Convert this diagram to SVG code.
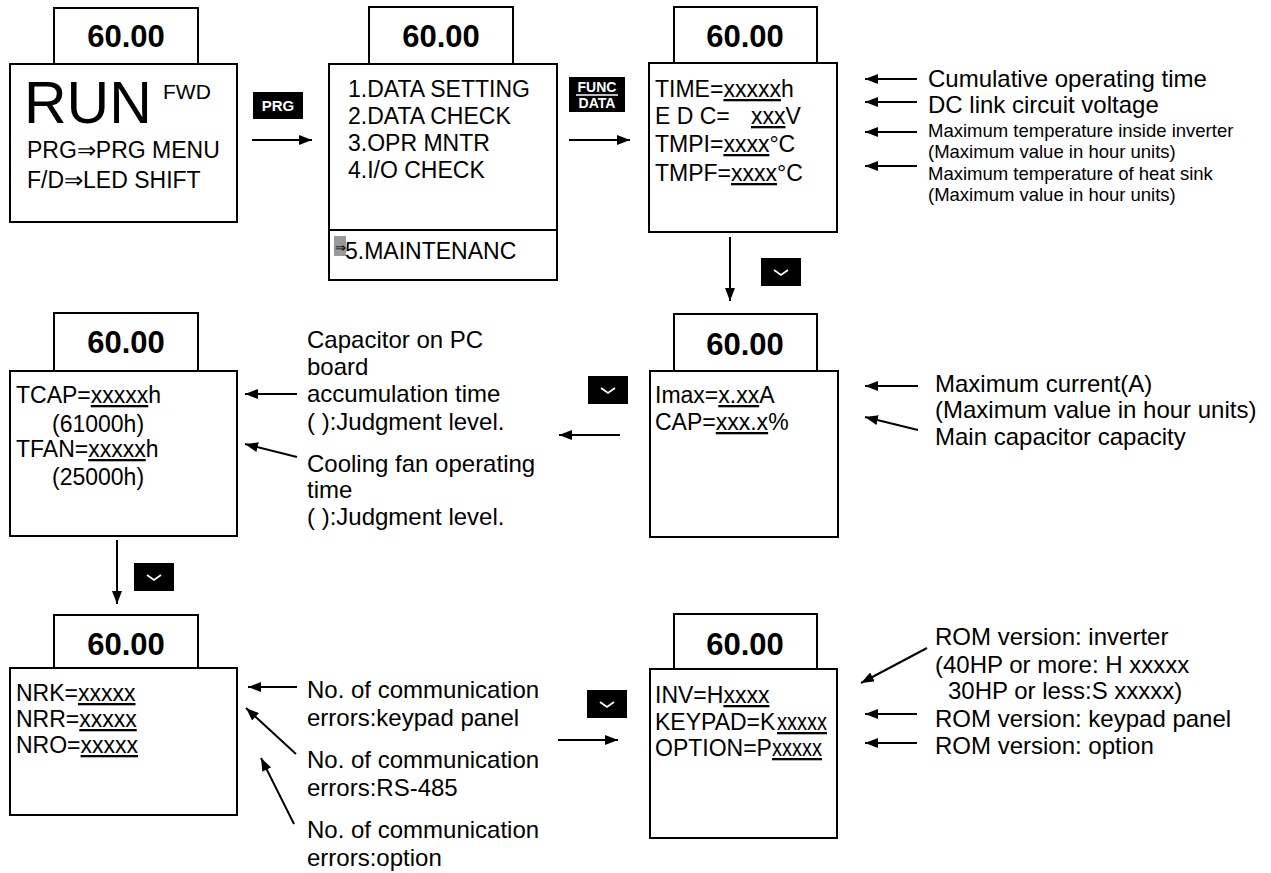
<svg xmlns="http://www.w3.org/2000/svg" width="1271" height="873" viewBox="0 0 1271 873">
<style>
.box{fill:#fff;stroke:#000;stroke-width:2}
.t{font-family:"Liberation Sans",Arial,sans-serif;fill:#000}
.p{font-size:23px}
.hd{font-size:31px;font-weight:bold;text-anchor:middle}
.an{font-size:24px}
.sm{font-size:18.5px}
.u{text-decoration:underline}
.badge{fill:#000}
.bt{font-family:"Liberation Sans",Arial,sans-serif;font-weight:bold;fill:#fff;text-anchor:middle}
.chev{fill:none;stroke:#fff;stroke-width:1.8}
.ar{stroke:#000;stroke-width:2;fill:none;marker-end:url(#ah)}
</style>
<defs>
<marker id="ah" markerUnits="userSpaceOnUse" markerWidth="13" markerHeight="10" refX="13" refY="5" orient="auto">
<path d="M0,0 L13,5 L0,10 z" fill="#000"/>
</marker>
<g id="chevron">
<rect class="badge" x="0" y="0" width="40" height="28"/>
<polyline class="chev" points="13,12 20,17 27,12"/>
</g>
</defs>
<rect width="1271" height="873" fill="#fff"/>

<g id="panel-run">
<rect class="box" x="54" y="8" width="144" height="56"/>
<text class="t hd" x="126" y="47">60.00</text>
<rect class="box" x="10" y="64" width="227" height="158"/>
<text class="t" x="24" y="123" font-size="59">RUN</text>
<text class="t" x="163" y="99" font-size="21">FWD</text>
<text class="t p" x="27" y="158">PRG⇒PRG MENU</text>
<text class="t p" x="27" y="188">F/D⇒LED SHIFT</text>
</g>

<g id="key-prg">
<rect class="badge" x="253" y="92" width="50" height="27"/>
<text class="bt" x="278" y="111" font-size="15">PRG</text>
</g>

<g id="panel-menu">
<rect class="box" x="369" y="7" width="144" height="57"/>
<text class="t hd" x="441" y="47">60.00</text>
<rect class="box" x="329" y="64" width="228" height="216"/>
<line x1="329" y1="230" x2="557" y2="230" stroke="#000" stroke-width="2"/>
<text class="t p" x="348" y="97">1.DATA SETTING</text>
<text class="t p" x="348" y="124">2.DATA CHECK</text>
<text class="t p" x="348" y="151">3.OPR MNTR</text>
<text class="t p" x="348" y="178">4.I/O CHECK</text>
<rect x="334" y="236" width="12" height="20" fill="#999"/>
<text class="t" x="340" y="252" font-size="13" text-anchor="middle" fill="#333">⇒</text>
<text class="t p" x="345" y="259">5.MAINTENANC</text>
</g>

<g id="key-funcdata">
<rect class="badge" x="569" y="77" width="56" height="35"/>
<text class="bt" x="597" y="92" font-size="14">FUNC</text>
<line x1="576" y1="95" x2="618" y2="95" stroke="#fff" stroke-width="1.5"/>
<text class="bt" x="597" y="108" font-size="14">DATA</text>
</g>

<g id="panel-time">
<rect class="box" x="674" y="7" width="143" height="56"/>
<text class="t hd" x="745" y="47">60.00</text>
<rect class="box" x="649" y="63" width="188" height="169"/>
<text class="t p" x="655" y="97">TIME=<tspan class="u">xxxxx</tspan>h</text>
<text class="t p" x="655" y="124">E D C=<tspan x="751" class="u">xxx</tspan>V</text>
<text class="t p" x="655" y="152">TMPI=<tspan class="u">xxxx</tspan>°C</text>
<text class="t p" x="655" y="181">TMPF=<tspan class="u">xxxx</tspan>°C</text>
</g>

<g id="notes-time">
<text class="t an" x="928" y="87">Cumulative operating time</text>
<text class="t an" x="928" y="113">DC link circuit voltage</text>
<text class="t sm" x="928" y="137">Maximum temperature inside inverter</text>
<text class="t sm" x="928" y="158">(Maximum value in hour units)</text>
<text class="t sm" x="928" y="180">Maximum temperature of heat sink</text>
<text class="t sm" x="928" y="201">(Maximum value in hour units)</text>
</g>

<g id="key-down-1"><use href="#chevron" x="761" y="258"/></g>

<g id="panel-imax">
<rect class="box" x="674" y="314" width="143" height="57"/>
<text class="t hd" x="745" y="355">60.00</text>
<rect class="box" x="650" y="371" width="188" height="166"/>
<text class="t p" x="655" y="403">Imax=<tspan class="u">x.xx</tspan>A</text>
<text class="t p" x="655" y="430">CAP=<tspan class="u">xxx.x</tspan>%</text>
</g>

<g id="notes-imax">
<text class="t an" x="935" y="392">Maximum current(A)</text>
<text class="t an" x="935" y="418">(Maximum value in hour units)</text>
<text class="t an" x="935" y="445">Main capacitor capacity</text>
</g>

<g id="key-down-2"><use href="#chevron" x="588" y="376"/></g>

<g id="panel-tcap">
<rect class="box" x="54" y="313" width="144" height="58"/>
<text class="t hd" x="126" y="353">60.00</text>
<rect class="box" x="10" y="371" width="227" height="165"/>
<text class="t p" x="16" y="403">TCAP=<tspan class="u">xxxxx</tspan>h</text>
<text class="t p" x="52" y="432">(61000h)</text>
<text class="t p" x="16" y="457">TFAN=<tspan class="u">xxxxx</tspan>h</text>
<text class="t p" x="52" y="485">(25000h)</text>
</g>

<g id="notes-tcap">
<text class="t an" x="307" y="348">Capacitor on PC</text>
<text class="t an" x="307" y="375">board</text>
<text class="t an" x="307" y="402">accumulation time</text>
<text class="t an" x="307" y="430">( ):Judgment level.</text>
<text class="t an" x="307" y="472">Cooling fan operating</text>
<text class="t an" x="307" y="498">time</text>
<text class="t an" x="307" y="525">( ):Judgment level.</text>
</g>

<g id="key-down-3"><use href="#chevron" x="134" y="563"/></g>

<g id="panel-nrk">
<rect class="box" x="54" y="615" width="144" height="53"/>
<text class="t hd" x="126" y="655">60.00</text>
<rect class="box" x="10" y="668" width="227" height="147"/>
<text class="t p" x="16" y="701">NRK=<tspan class="u">xxxxx</tspan></text>
<text class="t p" x="16" y="727">NRR=<tspan class="u">xxxxx</tspan></text>
<text class="t p" x="16" y="753">NRO=<tspan class="u">xxxxx</tspan></text>
</g>

<g id="notes-nrk">
<text class="t an" x="307" y="698">No. of communication</text>
<text class="t an" x="307" y="726">errors:keypad panel</text>
<text class="t an" x="307" y="768">No. of communication</text>
<text class="t an" x="307" y="796">errors:RS-485</text>
<text class="t an" x="307" y="838">No. of communication</text>
<text class="t an" x="307" y="866">errors:option</text>
</g>

<g id="key-down-4"><use href="#chevron" x="587" y="690"/></g>

<g id="panel-rom">
<rect class="box" x="674" y="614" width="143" height="55"/>
<text class="t hd" x="745" y="655">60.00</text>
<rect class="box" x="650" y="669" width="187" height="169"/>
<text class="t p" x="655" y="703">INV=H<tspan class="u">xxxx</tspan></text>
<text class="t p" x="655" y="730">KEYPAD=K</text>
<text class="t p u" x="777" y="730" textLength="50" lengthAdjust="spacingAndGlyphs">xxxxx</text>
<text class="t p" x="655" y="756">OPTION=P</text>
<text class="t p u" x="772" y="756" textLength="50" lengthAdjust="spacingAndGlyphs">xxxxx</text>
</g>

<g id="notes-rom">
<text class="t an" x="935" y="645">ROM version: inverter</text>
<text class="t an" x="935" y="673">(40HP or more: H xxxxx</text>
<text class="t an" x="948" y="699">30HP or less:S xxxxx)</text>
<text class="t an" x="935" y="727">ROM version: keypad panel</text>
<text class="t an" x="935" y="754">ROM version: option</text>
</g>

<g id="connectors">
<line class="ar" x1="252" y1="140" x2="312" y2="140"/>
<line class="ar" x1="569" y1="140" x2="630" y2="140"/>
<line class="ar" x1="730" y1="237" x2="730" y2="301"/>
<line class="ar" x1="620" y1="435" x2="559" y2="435"/>
<line class="ar" x1="117" y1="540" x2="117" y2="604"/>
<line class="ar" x1="558" y1="740" x2="618" y2="740"/>
<line class="ar" x1="917" y1="79" x2="865" y2="79"/>
<line class="ar" x1="917" y1="102" x2="865" y2="102"/>
<line class="ar" x1="917" y1="132" x2="865" y2="132"/>
<line class="ar" x1="917" y1="166" x2="865" y2="166"/>
<line class="ar" x1="918" y1="386" x2="865" y2="386"/>
<line class="ar" x1="918" y1="430" x2="865" y2="417"/>
<line class="ar" x1="297" y1="394" x2="245" y2="394"/>
<line class="ar" x1="297" y1="457" x2="245" y2="444"/>
<line class="ar" x1="297" y1="687" x2="248" y2="687"/>
<line class="ar" x1="296" y1="754" x2="246" y2="708"/>
<line class="ar" x1="294" y1="824" x2="261" y2="758"/>
<line class="ar" x1="927" y1="648" x2="861" y2="683"/>
<line class="ar" x1="917" y1="714" x2="865" y2="714"/>
<line class="ar" x1="917" y1="743" x2="865" y2="743"/>
</g>
</svg>
